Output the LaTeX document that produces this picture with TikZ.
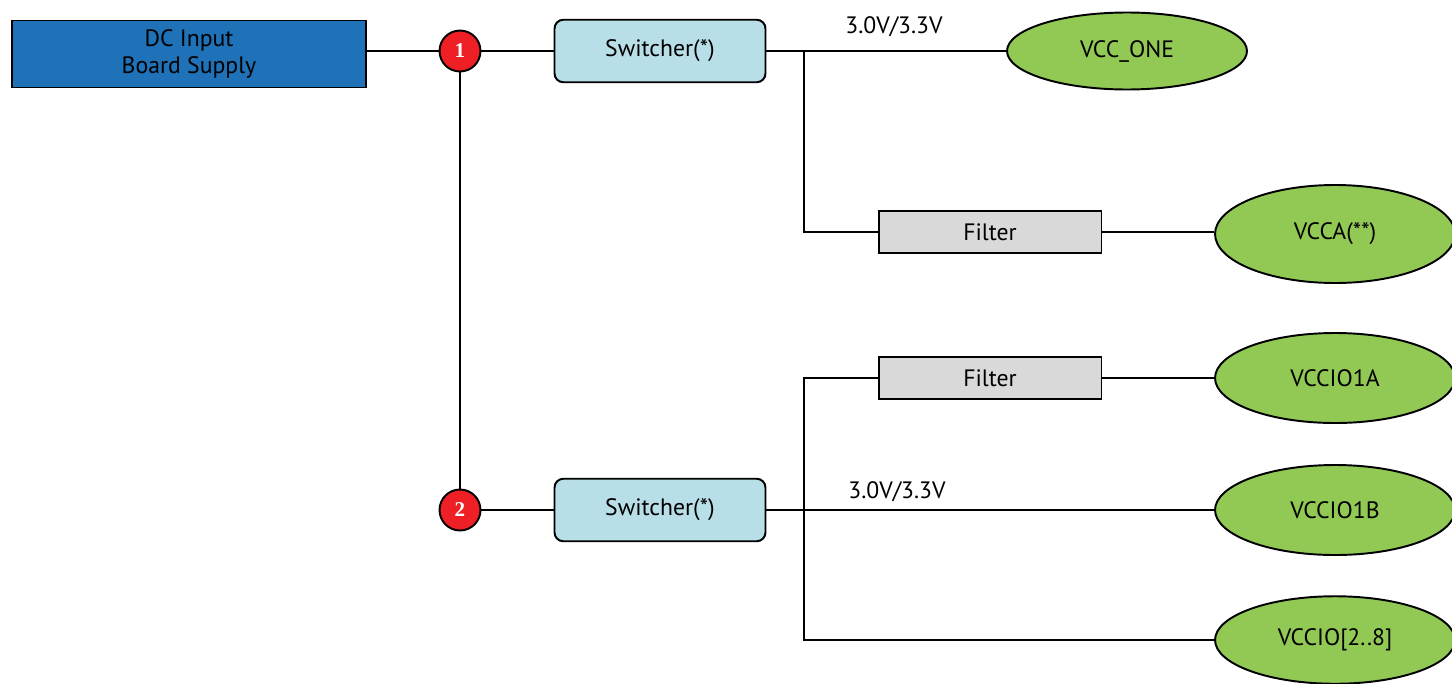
\documentclass[tikz,border=0pt]{standalone}
\usepackage{fontspec}
\setmainfont{PT Sans}
\usetikzlibrary{shapes.geometric, positioning}
\definecolor{supblue}{HTML}{1F71B8}
\definecolor{juncred}{HTML}{EE2026}
\definecolor{swblue}{HTML}{B8DFE8}
\definecolor{filtgray}{HTML}{D9D9D9}
\definecolor{railgreen}{HTML}{92C955}

\begin{document}
\begin{tikzpicture}[x=0.02cm, y=-0.02cm, line width=1.1pt,
                supply/.style={rectangle, draw, fill = supblue, minimum width = 7.08cm, minimum height = 1.34cm, align = center, inner sep = 0pt},
                junc/.style={circle, draw, fill = juncred, text = white, minimum size = .82cm, inner sep = 0pt, font = \fontspec{Liberation Serif}\bfseries\large},
                switcher/.style={rectangle, rounded corners = 5pt, draw, fill = swblue, minimum width = 4.22cm, minimum height = 1.25cm},
                filt/.style={rectangle, draw, fill = filtgray, minimum width = 4.46cm, minimum height = .84cm},
                rail/.style={ellipse, draw, fill = railgreen, minimum width = 4.8cm, minimum height = 1.8cm, inner sep = 0pt}]
            \useasboundingbox (0,0) rectangle (1452,683);
            \tikzstyle{every node}=[font = \fontsize{13.5}{15.5}\selectfont]
            % sources and regulators
            \node[supply] (dc) at (189,54) {DC Input\\Board Supply};
            \node[junc] (j1) at (460,51) {1};
            \node[junc] (j2) at (460,510) {2};
            \node[switcher] (sw1) at (660,51) {Switcher(*)};
            \node[switcher] (sw2) at (660,510) {Switcher(*)};
            \node[filt] (f1) at (990,232) {Filter};
            \node[filt] (f2) at (990,378) {Filter};
            % supply rails
            \node[rail, minimum height = 1.54cm] (vccone) at (1127,51) {VCC\_ONE};
            \node[rail, minimum height = 1.96cm] (vcca) at (1335,234) {VCCA(**)};
            \node[rail] (vccioa) at (1335,378) {VCCIO1A};
            \node[rail] (vcciob) at (1335,510) {VCCIO1B};
            \node[rail, minimum height = 1.75cm] (vccio) at (1335,640) {VCCIO[2..8]};
            % voltage labels
            \node (lv1) at (894,27) {3.0V/3.3V};
            \node (lv2) at (897,492) {3.0V/3.3V};
            \coordinate (b1) at (804,51);
            \coordinate (b2) at (804,510);
            % wiring
            \draw (j1.west -| dc.east) -- (j1.west);
            \draw (j1.east) -- (sw1.west);
            \draw (j1.south) -- (j2.north);
            \draw (j2.east) -- (sw2.west);
            \draw (sw1.east) -- (vccone.west);
            \draw (b1) |- (f1.west);
            \draw (f1.east) -- (f1.east -| vcca.west);
            \draw (sw2.east) -- (vcciob.west);
            \draw (f2.west) -| (b2) |- (vccio.west);
            \draw (f2.east) -- (vccioa.west);
        \end{tikzpicture}
\end{document}
